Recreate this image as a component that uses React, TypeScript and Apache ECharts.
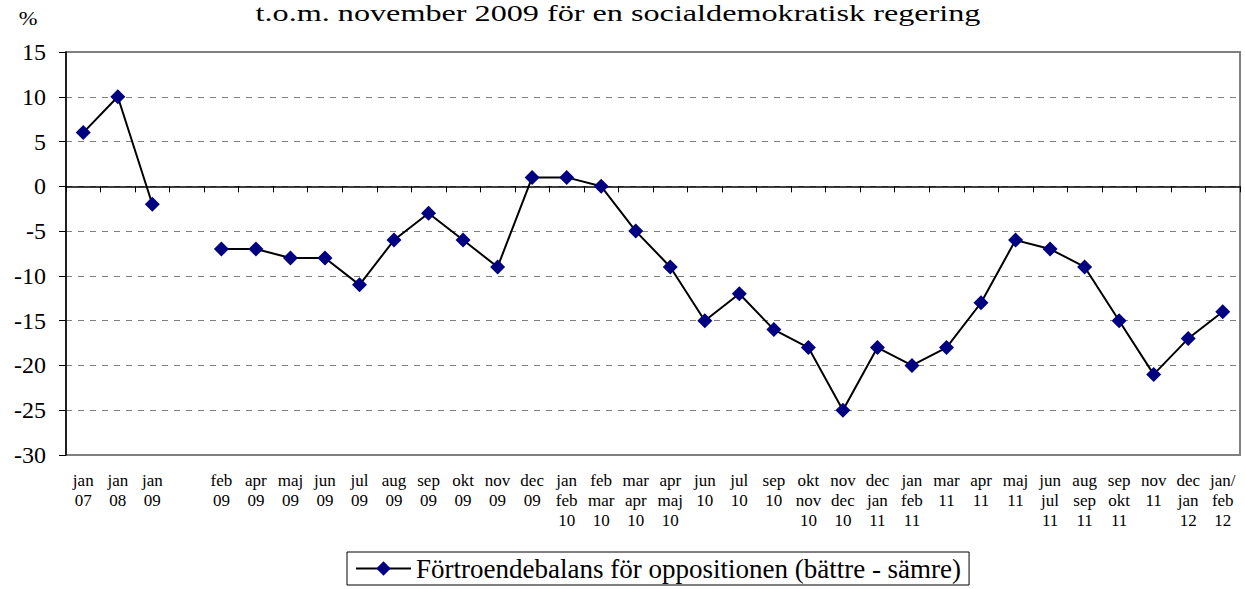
import React, { useEffect, useRef } from "react";
import * as echarts from "echarts";

const categories: string[] = [
  "jan\n07", "jan\n08", "jan\n09", "",
  "feb\n09", "apr\n09", "maj\n09", "jun\n09", "jul\n09", "aug\n09", "sep\n09", "okt\n09", "nov\n09", "dec\n09",
  "jan\nfeb\n10", "feb\nmar\n10", "mar\napr\n10", "apr\nmaj\n10",
  "jun\n10", "jul\n10", "sep\n10", "okt\nnov\n10", "nov\ndec\n10",
  "dec\njan\n11", "jan\nfeb\n11", "mar\n11", "apr\n11", "maj\n11",
  "jun\njul\n11", "aug\nsep\n11", "sep\nokt\n11", "nov\n11", "dec\njan\n12", "jan/\nfeb\n12",
];

const balance: (number | null)[] = [
  6, 10, -2, null,
  -7, -7, -8, -8, -11, -6, -3, -6, -9, 1,
  1, 0, -5, -9,
  -15, -12, -16, -18, -25,
  -18, -20, -18, -13, -6,
  -7, -9, -15, -21, -17, -14,
];

const seriesName = "Förtroendebalans för oppositionen (bättre - sämre)";
const titleText = "t.o.m. november 2009 för en socialdemokratisk regering";
const yMin = -30;
const yMax = 15;
const yStep = 5;

const FONT = "Liberation Serif, Times New Roman, serif";

export default function App() {
  const ref = useRef<HTMLDivElement>(null);
  useEffect(() => {
    if (!ref.current) return;
    const chart = echarts.init(ref.current, null, { renderer: "svg" });
    chart.setOption({
      animation: false,
      backgroundColor: "#ffffff",
      textStyle: { fontFamily: FONT, color: "#000" },
      graphic: [
        {
          type: "text",
          x: 618,
          y: 13,
          scaleX: 1.4,
          style: {
            text: titleText,
            font: `23px ${FONT}`,
            fill: "#000",
            textAlign: "center",
            textVerticalAlign: "middle",
          },
        },
        {
          type: "text",
          x: 28,
          y: 19,
          scaleX: 1.25,
          style: {
            text: "%",
            font: `18px ${FONT}`,
            fill: "#000",
            textAlign: "center",
            textVerticalAlign: "middle",
          },
        },
      ],
      legend: {
        left: 347,
        top: 552,
        padding: [3, 8, 3, 8],
        borderColor: "#000",
        borderWidth: 1,
        itemWidth: 55,
        itemHeight: 18,
        itemGap: 6,
        textStyle: { fontFamily: FONT, fontSize: 27, color: "#000" },
        data: [seriesName],
      },
      grid: {
        left: 66,
        right: 5,
        top: 52,
        bottom: 589 - 455,
        show: true,
        borderColor: "#808080",
        borderWidth: 2,
        containLabel: false,
      },
      xAxis: [
        {
          type: "category",
          data: categories,
          position: "bottom",
          boundaryGap: true,
          axisLine: { show: true, onZero: true, lineStyle: { color: "#000", width: 1.5 } },
          axisTick: { show: true, length: 6, interval: 0, lineStyle: { color: "#000" } },
          axisLabel: { show: false },
          splitLine: { show: false },
        },
        {
          type: "category",
          data: categories,
          position: "bottom",
          boundaryGap: true,
          axisLine: { show: false, onZero: false },
          axisTick: { show: false },
          axisLabel: {
            show: true,
            interval: 0,
            margin: 15,
            fontFamily: FONT,
            fontSize: 17,
            lineHeight: 20,
            color: "#000",
            verticalAlign: "top",
          },
          splitLine: { show: false },
        },
      ],
      yAxis: {
        type: "value",
        min: yMin,
        max: yMax,
        interval: yStep,
        axisLine: { show: true, lineStyle: { color: "#000", width: 1.5 } },
        axisTick: { show: true, length: 7, lineStyle: { color: "#000" } },
        axisLabel: { fontFamily: FONT, fontSize: 24, color: "#000", margin: 20 },
        splitLine: { show: true, lineStyle: { color: "#808080", type: [6, 6], width: 1 } },
      },
      series: [
        {
          name: seriesName,
          type: "line",
          xAxisIndex: 0,
          data: balance,
          connectNulls: false,
          symbol: "diamond",
          symbolSize: 15,
          itemStyle: { color: "#000080" },
          lineStyle: { color: "#000", width: 2 },
        },
      ],
    });
    return () => chart.dispose();
  }, []);
  return (
    <div
      ref={ref}
      style={{ position: "absolute", left: 0, top: 0, width: 1245, height: 589 }}
    />
  );
}
